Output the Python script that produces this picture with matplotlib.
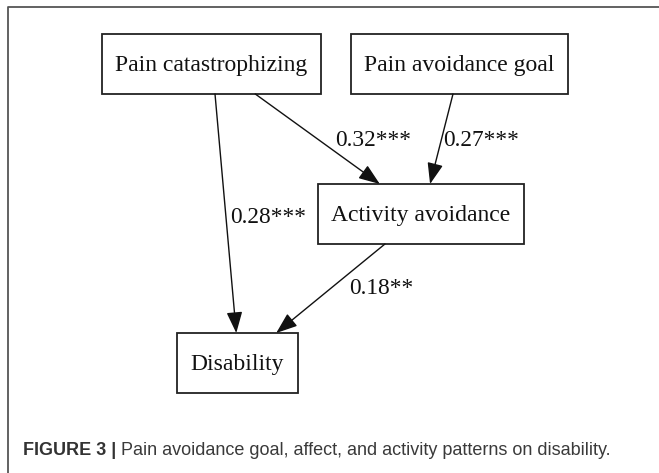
import matplotlib
matplotlib.use("Agg")
import matplotlib.pyplot as plt
from matplotlib.patches import Rectangle, FancyArrowPatch

# ---- data ----
node_names = ["Pain catastrophizing", "Pain avoidance goal", "Activity avoidance", "Disability"]
edge_sources = ["Pain catastrophizing", "Pain catastrophizing", "Pain avoidance goal", "Activity avoidance"]
edge_targets = ["Disability", "Activity avoidance", "Activity avoidance", "Disability"]
edge_coefs = ["0.28", "0.32", "0.27", "0.18"]
edge_sig = ["***", "***", "***", "**"]
caption_bold = "FIGURE 3 |"
caption_text = " Pain avoidance goal, affect, and activity patterns on disability."

# ---- layout (pixel coordinates) ----
boxes = {  # x0, y0, x1, y1
    "Pain catastrophizing": (102, 34, 321, 94),
    "Pain avoidance goal": (351, 34, 568, 94),
    "Activity avoidance": (318, 184, 524, 244),
    "Disability": (177, 333, 298, 393),
}
# fraction along source bottom edge, fraction along target top edge
ports = [(0.516, 0.49), (0.70, 0.30), (0.47, 0.544), (0.325, 0.82)]
label_pos = [(230, 217, "left"), (373, 140, "center"), (443, 140, "left"), (381, 288, "center")]

W, H = 659, 473
fig = plt.figure(figsize=(W / 100, H / 100), dpi=100)
ax = fig.add_axes([0, 0, 1, 1])
ax.set_xlim(0, W)
ax.set_ylim(H, 0)
ax.axis("off")

serif = "Liberation Serif"
fs_node = 17
fs_lab = 16.8

# outer frame (open at right/bottom edges of the crop)
ax.plot([8, 8, W + 5], [H + 5, 7.5, 7.5], color="#555555", lw=1.3, solid_capstyle="butt")

for name in node_names:
    x0, y0, x1, y1 = boxes[name]
    ax.add_patch(Rectangle((x0, y0), x1 - x0, y1 - y0, fill=False, ec="#222222", lw=1.3))
    ax.text((x0 + x1) / 2, (y0 + y1) / 2 + 1, name, ha="center", va="center",
            family=serif, fontsize=fs_node, color="#111111")

for (src, tgt, c, s, (fs, ft), (lx, ly, ha)) in zip(edge_sources, edge_targets, edge_coefs, edge_sig, ports, label_pos):
    sx0, sy0, sx1, sy1 = boxes[src]
    tx0, ty0, tx1, ty1 = boxes[tgt]
    p0 = (sx0 + fs * (sx1 - sx0), sy1)
    p1 = (tx0 + ft * (tx1 - tx0), ty0)
    arr = FancyArrowPatch(p0, p1, arrowstyle="-|>,head_length=0.72,head_width=0.27",
                          mutation_scale=18, shrinkA=0, shrinkB=0, lw=1.0,
                          color="#111111")
    ax.add_patch(arr)
    ax.text(lx, ly, c + s, ha=ha, va="center", family=serif, fontsize=fs_lab, color="#111111")

# caption
cap_family = ["Liberation Sans Narrow", "Liberation Sans", "DejaVu Sans"]
t = ax.text(23, 450, caption_bold, ha="left", va="center", family=cap_family,
            fontsize=13, fontweight="bold", color="#333333")
fig.canvas.draw()
bb = t.get_window_extent()
ax.text(bb.x1, 450, caption_text, ha="left", va="center", family=cap_family,
        fontsize=13, color="#3a3a3a")

fig.savefig("out.png", dpi=100)
